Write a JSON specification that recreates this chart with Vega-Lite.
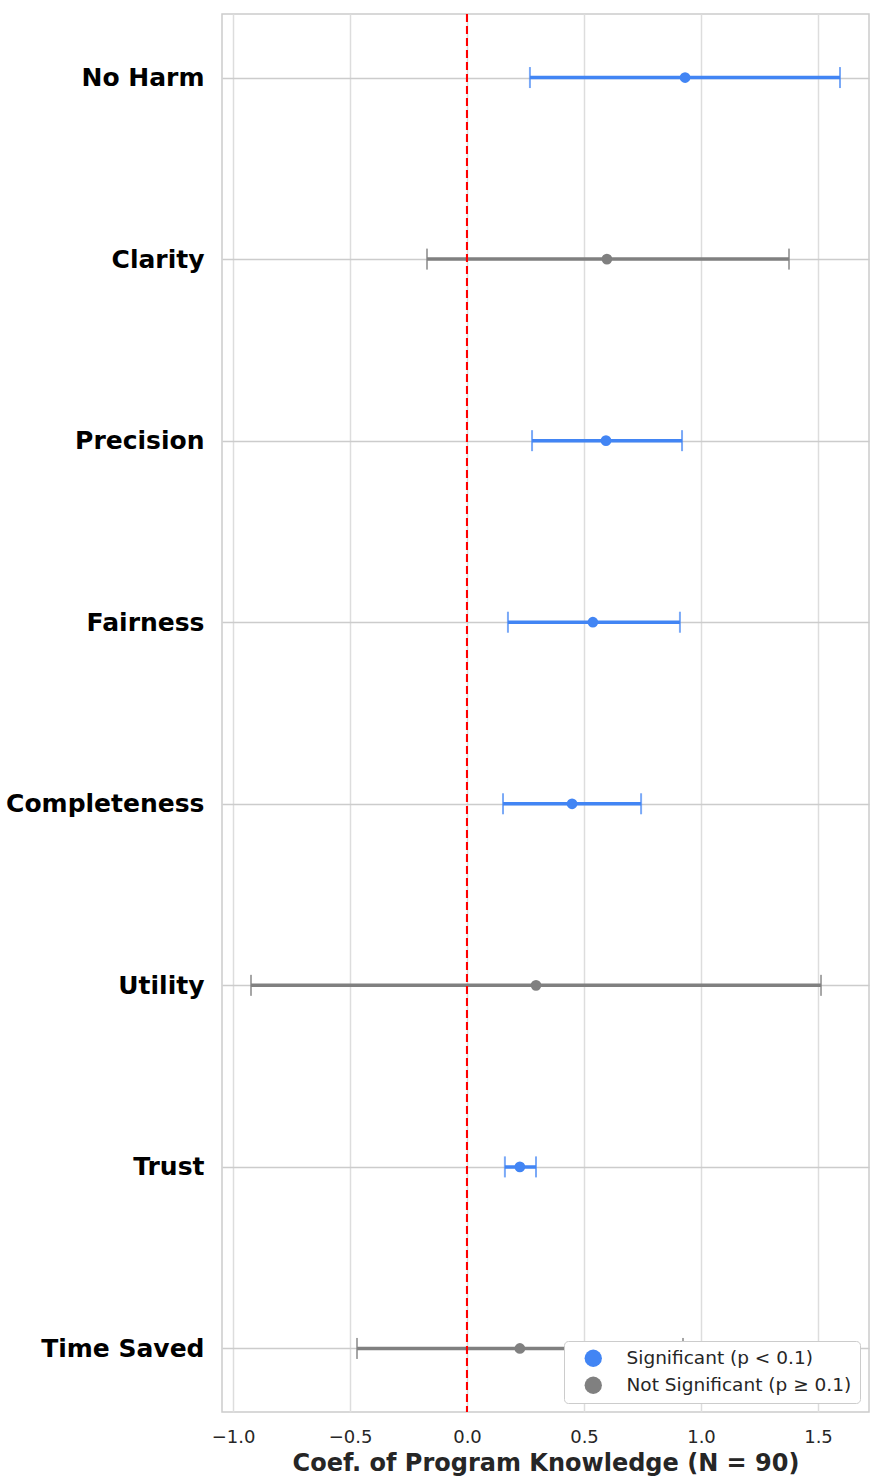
{
  "$schema": "https://vega.github.io/schema/vega-lite/v6.json",
  "width": 647,
  "height": 1398,
  "autosize": {"type": "none"},
  "padding": {"left": 222, "top": 14, "right": 14, "bottom": 66},
  "background": "white",
  "config": {
    "font": "DejaVu Sans",
    "view": {"stroke": "#cccccc", "strokeWidth": 1.5},
    "axis": {"labelFont": "DejaVu Sans", "titleFont": "DejaVu Sans"},
    "legend": {"symbolOpacity": 1}
  },
  "data": {
    "values": [
      {"term": "No Harm", "coef": 0.932, "lo": 0.269, "hi": 1.594, "sig": "Significant (p < 0.1)"},
      {"term": "Clarity", "coef": 0.598, "lo": -0.171, "hi": 1.376, "sig": "Not Significant (p ≥ 0.1)"},
      {"term": "Precision", "coef": 0.594, "lo": 0.278, "hi": 0.919, "sig": "Significant (p < 0.1)"},
      {"term": "Fairness", "coef": 0.538, "lo": 0.175, "hi": 0.910, "sig": "Significant (p < 0.1)"},
      {"term": "Completeness", "coef": 0.449, "lo": 0.154, "hi": 0.744, "sig": "Significant (p < 0.1)"},
      {"term": "Utility", "coef": 0.295, "lo": -0.923, "hi": 1.513, "sig": "Not Significant (p ≥ 0.1)"},
      {"term": "Trust", "coef": 0.226, "lo": 0.162, "hi": 0.295, "sig": "Significant (p < 0.1)"},
      {"term": "Time Saved", "coef": 0.226, "lo": -0.470, "hi": 0.923, "sig": "Not Significant (p ≥ 0.1)"}
    ]
  },
  "layer": [
    {
      "mark": {"type": "rule", "strokeWidth": 3.5},
      "encoding": {
        "y": {
          "field": "term", "type": "nominal", "sort": null,
          "scale": {"type": "point", "padding": 0.35},
          "axis": {
            "title": null, "domain": false, "ticks": false, "grid": true,
            "labelFontSize": 25, "labelFontWeight": "bold", "labelColor": "black",
            "labelPadding": 18, "labelLimit": 400, "gridColor": "#cccccc", "gridWidth": 1.5
          }
        },
        "x": {
          "field": "lo", "type": "quantitative",
          "scale": {"domain": [-1.047, 1.718], "nice": false, "zero": false},
          "axis": {
            "title": "Coef. of Program Knowledge (N = 90)",
            "titleFontSize": 24, "titleFontWeight": "bold", "titleColor": "#262626",
            "titlePadding": 5,
            "values": [-1, -0.5, 0, 0.5, 1, 1.5], "format": ".1f",
            "labelFontSize": 18, "labelColor": "#262626", "labelPadding": 16,
            "ticks": false, "domain": false, "gridColor": "#dddddd", "gridWidth": 1.5
          }
        },
        "x2": {"field": "hi"},
        "color": {
          "field": "sig", "type": "nominal",
          "scale": {"domain": ["Significant (p < 0.1)", "Not Significant (p ≥ 0.1)"], "range": ["#4285F4", "#808080"]}
        }
      }
    },
    {
      "mark": {"type": "tick", "size": 21, "thickness": 2},
      "encoding": {
        "y": {"field": "term", "type": "nominal", "sort": null},
        "x": {"field": "lo", "type": "quantitative"},
        "color": {"field": "sig", "type": "nominal"}
      }
    },
    {
      "mark": {"type": "tick", "size": 21, "thickness": 2},
      "encoding": {
        "y": {"field": "term", "type": "nominal", "sort": null},
        "x": {"field": "hi", "type": "quantitative"},
        "color": {"field": "sig", "type": "nominal"}
      }
    },
    {
      "mark": {"type": "rule", "color": "red", "strokeWidth": 2, "strokeDash": [8, 4]},
      "encoding": {"x": {"datum": 0, "type": "quantitative"}}
    },
    {
      "mark": {"type": "point", "filled": true, "size": 115, "opacity": 1},
      "encoding": {
        "y": {"field": "term", "type": "nominal", "sort": null},
        "x": {"field": "coef", "type": "quantitative"},
        "color": {
          "field": "sig", "type": "nominal",
          "legend": {
            "title": null, "orient": "bottom-right", "offset": 9,
            "symbolType": "circle", "symbolSize": 300, "symbolStrokeWidth": 0, "symbolOpacity": 1,
            "labelFontSize": 18.5, "labelColor": "#262626", "labelFont": "DejaVu Sans",
            "labelOffset": 24, "symbolOffset": 12, "rowPadding": 8, "labelLimit": 400,
            "padding": 8, "fillColor": "white", "strokeColor": "#cccccc", "cornerRadius": 4
          }
        }
      }
    }
  ]
}
